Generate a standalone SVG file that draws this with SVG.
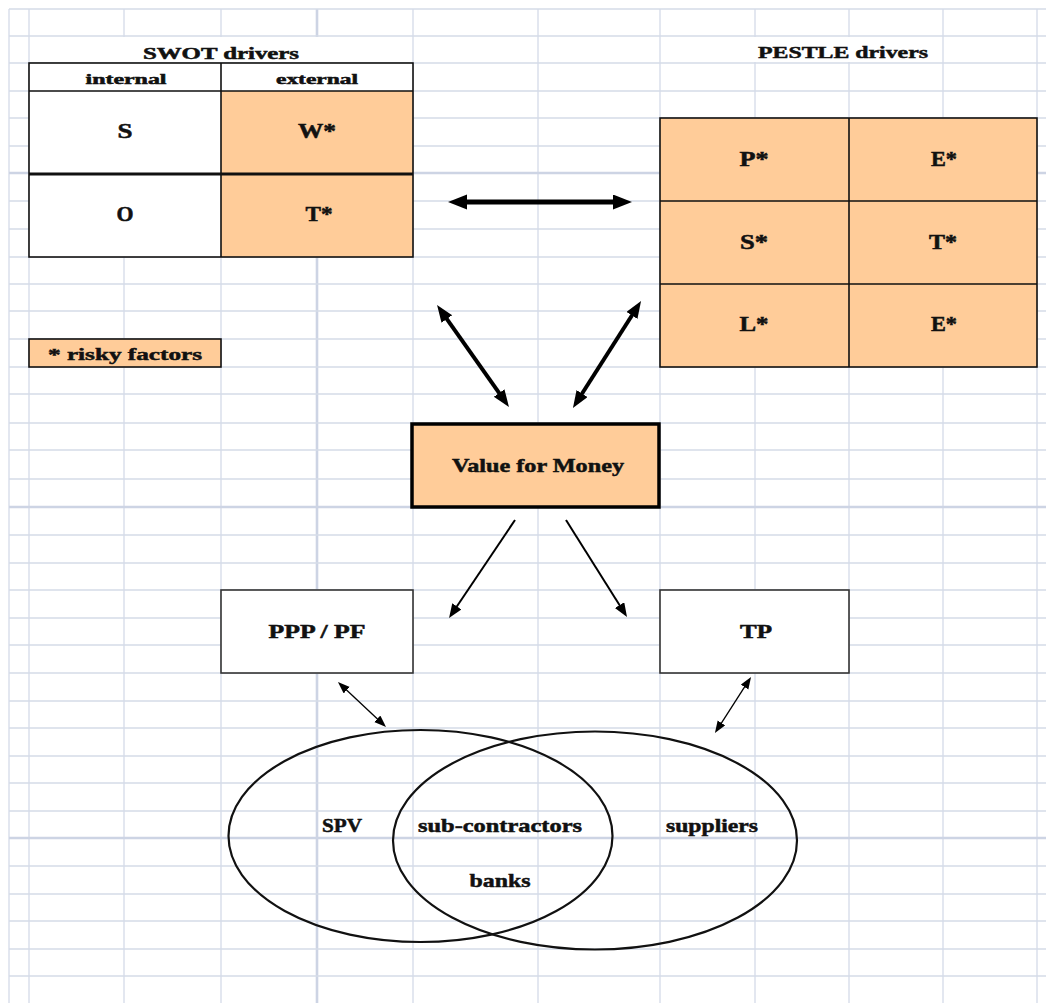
<svg xmlns="http://www.w3.org/2000/svg" width="1046" height="1003" viewBox="0 0 1046 1003">
<style>
.g{stroke:#d5dbe8;stroke-width:1.3;fill:none}
.gt{stroke:#cdd4e4;stroke-width:2.6;fill:none}
.t{font-family:"Liberation Serif","Times New Roman",serif;font-weight:bold;fill:#111;stroke:#111;stroke-width:0.5;text-anchor:middle}
.peach{fill:#ffcc99}
.cell{stroke:#111;stroke-width:1.6}
.box{fill:#fff;stroke:#333;stroke-width:1.6}
.ell{fill:none;stroke:#111;stroke-width:2.2}
.a5{stroke:#000;stroke-width:5;fill:none}
.a4{stroke:#000;stroke-width:4;fill:none}
.a2{stroke:#000;stroke-width:2;fill:none}
.a1{stroke:#000;stroke-width:1.3;fill:none}
</style>
<defs>
<marker id="hXL" markerUnits="userSpaceOnUse" markerWidth="20" markerHeight="16" refX="2" refY="7.5" orient="auto-start-reverse"><path d="M0,0 L19,7.5 L0,15 z" fill="#000"/></marker>
<marker id="hL" markerUnits="userSpaceOnUse" markerWidth="18" markerHeight="14" refX="2" refY="6.5" orient="auto-start-reverse"><path d="M0,0 L17,6.5 L0,13 z" fill="#000"/></marker>
<marker id="hM" markerUnits="userSpaceOnUse" markerWidth="15" markerHeight="12" refX="1" refY="5.5" orient="auto-start-reverse"><path d="M0,0 L14,5.5 L0,11 z" fill="#000"/></marker>
<marker id="hS" markerUnits="userSpaceOnUse" markerWidth="13" markerHeight="10" refX="1" refY="4.5" orient="auto-start-reverse"><path d="M0,0 L12,4.5 L0,9 z" fill="#000"/></marker>
</defs>
<rect x="0" y="0" width="1046" height="1003" fill="#fff"/>
<g id="grid">
<path class="g" d="M9,9V1003M29,9V1003M124,9V1003M221,9V1003M413,9V1003M538,9V1003M660,9V1003M755,9V1003M849,9V1003M943,9V1003M1037,9V1003"/>
<path class="gt" d="M317,9V1003"/>
<path class="g" d="M9,9H1046M9,36H1046M9,63H1046M9,91H1046M9,118H1046M9,146H1046M9,201H1046M9,229H1046M9,257H1046M9,284H1046M9,311H1046M9,339H1046M9,367H1046M9,394H1046M9,423H1046M9,450H1046M9,479H1046M9,535H1046M9,563H1046M9,590H1046M9,618H1046M9,645H1046M9,673H1046M9,701H1046M9,728H1046M9,756H1046M9,783H1046M9,811H1046M9,866H1046M9,894H1046M9,921H1046M9,949H1046M9,976H1046"/>
<path class="gt" d="M9,173H1046M9,507H1046M9,838H1046"/>
</g>
<g id="swot">
<rect x="30" y="37" width="382" height="25" fill="#fff"/>
<text class="t" x="221" y="59" font-size="16" textLength="156" lengthAdjust="spacingAndGlyphs">SWOT drivers</text>
<rect x="29" y="63" width="192" height="194" fill="#fff"/>
<rect x="221" y="91" width="192" height="166" class="peach"/>
<rect x="221" y="63" width="192" height="28" fill="#fff"/>
<rect x="29" y="63" width="384" height="194" fill="none" class="cell"/>
<path class="cell" d="M221,63V257M29,91H413"/>
<path stroke="#111" stroke-width="3" d="M29,174H413"/>
<text class="t" x="126" y="84" font-size="14" textLength="81" lengthAdjust="spacingAndGlyphs">internal</text>
<text class="t" x="317" y="84" font-size="14" textLength="82" lengthAdjust="spacingAndGlyphs">external</text>
<text class="t" x="125" y="138" font-size="20" textLength="15" lengthAdjust="spacingAndGlyphs">S</text>
<text class="t" x="317" y="138" font-size="20" textLength="38" lengthAdjust="spacingAndGlyphs">W*</text>
<text class="t" x="125" y="221" font-size="20" textLength="17" lengthAdjust="spacingAndGlyphs">O</text>
<text class="t" x="319" y="221" font-size="20" textLength="27" lengthAdjust="spacingAndGlyphs">T*</text>
</g>
<g id="pestle">
<rect x="661" y="37" width="281" height="25" fill="#fff"/>
<text class="t" x="843" y="58" font-size="17" textLength="170" lengthAdjust="spacingAndGlyphs">PESTLE drivers</text>
<rect x="660" y="118" width="377" height="249" class="peach cell" stroke-width="2"/>
<path class="cell" stroke-width="2" d="M849,118V367M660,201H1037M660,284H1037"/>
<text class="t" x="754" y="166" font-size="20" textLength="29" lengthAdjust="spacingAndGlyphs">P*</text>
<text class="t" x="944" y="166" font-size="20" textLength="26" lengthAdjust="spacingAndGlyphs">E*</text>
<text class="t" x="754" y="249" font-size="20" textLength="28" lengthAdjust="spacingAndGlyphs">S*</text>
<text class="t" x="943" y="249" font-size="20" textLength="28" lengthAdjust="spacingAndGlyphs">T*</text>
<text class="t" x="754" y="331" font-size="20" textLength="29" lengthAdjust="spacingAndGlyphs">L*</text>
<text class="t" x="944" y="331" font-size="20" textLength="26" lengthAdjust="spacingAndGlyphs">E*</text>
</g>
<g id="legend">
<rect x="29" y="339" width="192" height="28" class="peach cell" stroke-width="2"/>
<text class="t" x="125" y="360" font-size="17" textLength="154" lengthAdjust="spacingAndGlyphs">* risky factors</text>
</g>
<g id="vfm">
<rect x="412" y="424" width="247" height="83" class="peach" stroke="#000" stroke-width="3.5"/>
<text class="t" x="538" y="472" font-size="19" textLength="172" lengthAdjust="spacingAndGlyphs">Value for Money</text>
</g>
<g id="ppp">
<rect x="221" y="590" width="192" height="83" class="box"/>
<text class="t" x="317" y="638" font-size="18" textLength="97" lengthAdjust="spacingAndGlyphs">PPP / PF</text>
</g>
<g id="tp">
<rect x="660" y="590" width="189" height="83" class="box"/>
<text class="t" x="756" y="638" font-size="18" textLength="32" lengthAdjust="spacingAndGlyphs">TP</text>
</g>
<g id="venn">
<ellipse class="ell" cx="420.5" cy="836" rx="192" ry="106"/>
<ellipse class="ell" cx="595" cy="840.5" rx="202" ry="109"/>
<text class="t" x="342" y="832" font-size="19" textLength="40" lengthAdjust="spacingAndGlyphs">SPV</text>
<text class="t" x="500" y="832" font-size="19" textLength="164" lengthAdjust="spacingAndGlyphs">sub-contractors</text>
<text class="t" x="712" y="832" font-size="19" textLength="92" lengthAdjust="spacingAndGlyphs">suppliers</text>
<text class="t" x="500" y="887" font-size="19" textLength="61" lengthAdjust="spacingAndGlyphs">banks</text>
</g>
<g id="connectors">
<line class="a5" x1="465" y1="202" x2="615" y2="202" marker-start="url(#hXL)" marker-end="url(#hXL)"/>
<line class="a4" x1="445.7" y1="317.3" x2="500.3" y2="394.7" marker-start="url(#hL)" marker-end="url(#hL)"/>
<line class="a4" x1="633" y1="313.7" x2="581" y2="395.3" marker-start="url(#hL)" marker-end="url(#hL)"/>
<line class="a2" x1="515" y1="520" x2="456.3" y2="607.2" marker-end="url(#hM)"/>
<line class="a2" x1="566" y1="520" x2="620.1" y2="606" marker-end="url(#hM)"/>
<line class="a1" x1="346" y1="689.5" x2="378" y2="719.5" marker-start="url(#hS)" marker-end="url(#hS)"/>
<line class="a1" x1="745.1" y1="686.2" x2="720.9" y2="723.8" marker-start="url(#hS)" marker-end="url(#hS)"/>
</g>
</svg>
